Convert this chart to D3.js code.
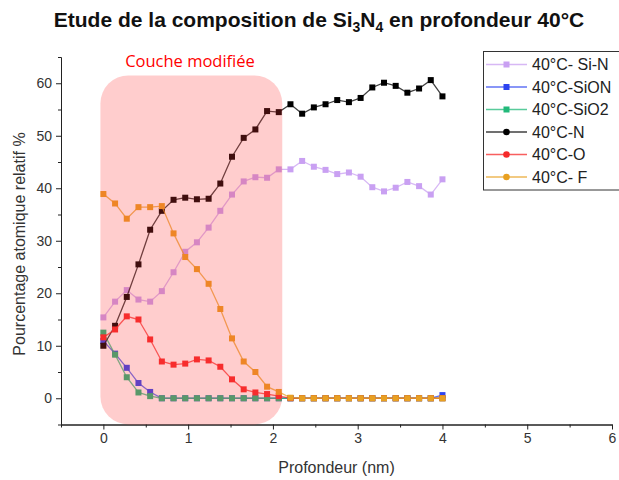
<!DOCTYPE html>
<meta charset="utf-8">
<head>
    <title>Si3N4 40°C</title>
    <script src="https://cdn.jsdelivr.net/npm/d3@7"></script>
</head>

<style>
    body { margin: 0; background: white; }
    text { font-family: "Liberation Sans", Arial, sans-serif; }
</style>

<svg></svg>

<script>
    // data (30 points from 0 to 4 nm)
    var nPoints = 30;
    var depth = d3.range(nPoints).map(function (i) { return i * 4 / (nPoints - 1); });

    var siN  = [15.4, 18.4, 20.6, 18.8, 18.4, 20.4, 24.0, 27.9, 29.7, 32.5, 35.7, 38.8, 41.3, 42.1, 42.0,
                43.6, 43.6, 45.2, 44.1, 43.5, 42.7, 43.0, 42.2, 40.2, 39.4, 40.1, 41.2, 40.4, 38.8, 41.7];
    var siON = [10.9, 8.5, 5.8, 2.9, 1.2, 0, 0, 0, 0, 0, 0, 0, 0, 0, 0,
                0, 0, 0, 0, 0, 0, 0, 0, 0, 0, 0, 0, 0, 0, 0.6];
    var siO2 = [12.5, 8.3, 4.0, 1.1, 0.4, 0, 0, 0, 0, 0, 0, 0, 0, 0, 0,
                0, 0, 0, 0, 0, 0, 0, 0, 0, 0, 0, 0, 0, 0, 0];
    var nit  = [10.0, 13.8, 19.3, 25.5, 32.1, 35.7, 37.8, 38.2, 37.9, 38.0, 40.9, 46.0, 49.6, 51.2, 54.7,
                54.5, 56.0, 54.2, 55.4, 56.0, 56.8, 56.4, 57.2, 59.2, 60.1, 59.5, 58.2, 59.0, 60.6, 57.5];
    var oxy  = [11.6, 13.1, 15.6, 15.0, 11.2, 7.0, 6.4, 6.6, 7.4, 7.2, 6.0, 3.6, 1.7, 1.1, 0.8,
                0.4, 0, 0, 0, 0, 0, 0, 0, 0, 0, 0, 0, 0, 0, 0];
    var fluo = [38.9, 37.1, 34.2, 36.4, 36.4, 36.6, 31.4, 26.9, 24.6, 21.8, 17.0, 11.4, 7.0, 5.0, 2.2,
                1.2, 0.1, 0, 0, 0, 0, 0, 0, 0, 0, 0, 0, 0, 0, 0];

    var seriesNames = ["40°C- Si-N", "40°C-SiON", "40°C-SiO2", "40°C-N", "40°C-O", "40°C- F"];
    var seriesValues = [siN, siON, siO2, nit, oxy, fluo];
    var seriesColors = ["#c9a0f2", "#2d44f0", "#22b97a", "#000000", "#f52a2a", "#e8a021"];
    var legendShapes = ["square", "square", "square", "circle", "circle", "circle"];

    var xTicks = [0, 1, 2, 3, 4, 5, 6];
    var yTicks = [0, 10, 20, 30, 40, 50, 60];

    // modified layer zone (nm, %)
    var zone = {x0: -0.035, x1: 2.11, y0: -5, y1: 61.5};

    var vWidth = 619, vHeight = 480;
    var svg = d3.select('svg').attr('width', vWidth).attr('height', vHeight);

    var x = d3.scaleLinear().domain([-0.5, 6]).range([61, 612]);
    var y = d3.scaleLinear().domain([-5, 65]).range([424.5, 57]);

    // axes
    var xAxis = d3.axisBottom(x).tickValues(xTicks).tickFormat(d3.format('d'))
        .tickSize(5).tickSizeOuter(0).tickPadding(4);
    var xMinor = d3.axisBottom(x).tickValues(d3.range(-0.5, 6, 1)).tickSize(3).tickFormat('').tickSizeOuter(0);
    var yAxis = d3.axisLeft(y).tickValues(yTicks).tickFormat(d3.format('d'))
        .tickSize(5).tickSizeOuter(0).tickPadding(4);
    var yMinor = d3.axisLeft(y).tickValues(d3.range(-5, 66, 10)).tickSize(3).tickFormat('').tickSizeOuter(0);

    function styleAxis(g) {
        g.selectAll('path, line').attr('stroke', '#222').attr('stroke-width', 1);
        g.selectAll('text').attr('fill', '#333').style('font-size', '14px')
            .style('font-family', '"Liberation Sans", Arial, sans-serif');
    }

    svg.append('g').attr('transform', 'translate(0,' + y(-5) + ')').call(xMinor).call(styleAxis);
    svg.append('g').attr('transform', 'translate(0,' + y(-5) + ')').call(xAxis).call(styleAxis);
    svg.append('g').attr('transform', 'translate(' + x(-0.5) + ',0)').call(yMinor).call(styleAxis);
    svg.append('g').attr('transform', 'translate(' + x(-0.5) + ',0)').call(yAxis).call(styleAxis);

    // series
    var line = d3.line()
        .x(function (d, i) { return x(depth[i]); })
        .y(function (d) { return y(d); });

    seriesValues.forEach(function (vals, k) {
        var g = svg.append('g');
        g.append('path').datum(vals)
            .attr('d', line)
            .attr('fill', 'none')
            .attr('stroke', seriesColors[k])
            .attr('stroke-opacity', 0.75)
            .attr('stroke-width', 1.3);
        g.selectAll('rect').data(vals).enter()
            .append('rect')
            .attr('x', function (d, i) { return x(depth[i]) - 3; })
            .attr('y', function (d) { return y(d) - 3; })
            .attr('width', 6)
            .attr('height', 6)
            .attr('fill', seriesColors[k]);
    });

    // pink overlay
    svg.append('rect')
        .attr('x', x(zone.x0))
        .attr('y', y(zone.y1))
        .attr('width', x(zone.x1) - x(zone.x0))
        .attr('height', y(zone.y0) - y(zone.y1))
        .attr('rx', 28).attr('ry', 28)
        .attr('fill', '#ff3838')
        .attr('fill-opacity', 0.25);

    svg.append('text')
        .attr('x', 190).attr('y', 67)
        .attr('text-anchor', 'middle')
        .attr('fill', '#ff0000')
        .style('font-family', '"Open Sans", "Noto Sans", sans-serif')
        .style('font-size', '16.5px')
        .text('Couche modifiée');

    // titles
    var title = svg.append('text')
        .attr('x', 319).attr('y', 27)
        .attr('text-anchor', 'middle')
        .style('font-size', '21px')
        .style('font-weight', 'bold')
        .attr('fill', '#111');
    title.append('tspan').text('Etude de la composition de Si');
    title.append('tspan').attr('dy', 5).style('font-size', '14px').text('3');
    title.append('tspan').attr('dy', -5).text('N');
    title.append('tspan').attr('dy', 5).style('font-size', '14px').text('4');
    title.append('tspan').attr('dy', -5).text(' en profondeur 40°C');

    svg.append('text')
        .attr('x', x(2.75)).attr('y', 473)
        .attr('text-anchor', 'middle')
        .style('font-size', '16px')
        .attr('fill', '#333')
        .text('Profondeur (nm)');

    svg.append('text')
        .attr('transform', 'translate(25,244) rotate(-90)')
        .attr('text-anchor', 'middle')
        .style('font-size', '16px')
        .attr('fill', '#333')
        .text('Pourcentage atomique relatif %');

    // legend
    var legend = svg.append('g');
    legend.append('rect')
        .attr('x', 483.5).attr('y', 51.5)
        .attr('width', 160).attr('height', 138.5)
        .attr('fill', 'white')
        .attr('stroke', '#333')
        .attr('stroke-width', 1);

    seriesNames.forEach(function (name, k) {
        var ly = 64.5 + k * 22.5;
        legend.append('line')
            .attr('x1', 486).attr('x2', 527)
            .attr('y1', ly).attr('y2', ly)
            .attr('stroke', seriesColors[k])
            .attr('stroke-opacity', 0.75)
            .attr('stroke-width', 1.3);
        if (legendShapes[k] === 'square') {
            legend.append('rect')
                .attr('x', 506.5 - 3).attr('y', ly - 3)
                .attr('width', 6).attr('height', 6)
                .attr('fill', seriesColors[k]);
        } else {
            legend.append('circle')
                .attr('cx', 506.5).attr('cy', ly).attr('r', 3.3)
                .attr('fill', seriesColors[k]);
        }
        legend.append('text')
            .attr('x', 532).attr('y', ly + 5.5)
            .style('font-size', '16px')
            .attr('fill', '#222')
            .text(name);
    });
</script>
